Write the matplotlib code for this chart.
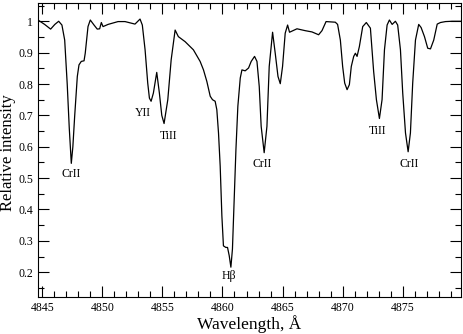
import matplotlib
matplotlib.use("Agg")
import matplotlib.pyplot as plt
from matplotlib.ticker import MultipleLocator

# traced spectrum (wavelength in A, relative intensity)
wavelength = [
    4844.65, 4845.20, 4845.70, 4846.05, 4846.37, 4846.64, 4846.87, 4847.08, 4847.25, 4847.42,
    4847.55, 4847.70, 4847.92, 4848.06, 4848.25, 4848.48, 4848.58, 4848.81, 4849.00, 4849.31,
    4849.58, 4849.78, 4849.92, 4850.06, 4850.48, 4851.31, 4851.89, 4852.72, 4853.14, 4853.33,
    4853.56, 4853.78, 4853.92, 4854.06, 4854.25, 4854.53, 4854.75, 4854.95, 4855.14, 4855.45,
    4855.73, 4856.06, 4856.33, 4856.89, 4857.58, 4858.14, 4858.42, 4858.70, 4858.98, 4859.17,
    4859.39, 4859.53, 4859.67, 4859.81, 4859.95, 4860.08, 4860.28, 4860.42, 4860.56, 4860.70,
    4860.83, 4860.98, 4861.12, 4861.28, 4861.48, 4861.62, 4861.89, 4862.17, 4862.39, 4862.67,
    4862.87, 4863.06, 4863.22, 4863.47, 4863.70, 4863.89, 4864.17, 4864.39, 4864.62, 4864.81,
    4865.00, 4865.22, 4865.42, 4865.58, 4866.20, 4866.89, 4867.45, 4868.00, 4868.28, 4868.62,
    4869.39, 4869.58, 4869.81, 4870.00, 4870.17, 4870.37, 4870.56, 4870.72, 4870.92, 4871.06,
    4871.20, 4871.39, 4871.67, 4871.97, 4872.31, 4872.58, 4872.81, 4873.06, 4873.28, 4873.48,
    4873.70, 4873.89, 4874.12, 4874.39, 4874.58, 4874.81, 4875.00, 4875.23, 4875.45, 4875.64,
    4875.83, 4876.06, 4876.33, 4876.53, 4876.81, 4877.08, 4877.31, 4877.58, 4877.87, 4878.14,
    4878.56, 4879.12, 4879.85,
]
intensity = [
    1.004, 0.990, 0.975, 0.990, 1.000, 0.988, 0.940, 0.800, 0.660, 0.547,
    0.600, 0.697, 0.824, 0.861, 0.872, 0.874, 0.898, 0.983, 1.004, 0.988,
    0.975, 0.976, 0.996, 0.983, 0.990, 0.999, 0.999, 0.991, 1.007, 0.988,
    0.909, 0.803, 0.755, 0.745, 0.771, 0.837, 0.771, 0.700, 0.674, 0.750,
    0.877, 0.972, 0.951, 0.935, 0.909, 0.872, 0.845, 0.808, 0.761, 0.750,
    0.745, 0.718, 0.644, 0.538, 0.380, 0.284, 0.279, 0.279, 0.253, 0.216,
    0.274, 0.433, 0.591, 0.729, 0.819, 0.845, 0.842, 0.851, 0.872, 0.888,
    0.872, 0.792, 0.665, 0.581, 0.665, 0.856, 0.965, 0.898, 0.824, 0.801,
    0.856, 0.962, 0.988, 0.965, 0.976, 0.970, 0.966, 0.957, 0.970, 0.999,
    0.997, 0.990, 0.940, 0.856, 0.803, 0.782, 0.798, 0.856, 0.888, 0.898,
    0.888, 0.919, 0.983, 0.996, 0.978, 0.840, 0.750, 0.690, 0.750, 0.909,
    0.988, 1.004, 0.990, 1.000, 0.988, 0.909, 0.771, 0.644, 0.584, 0.644,
    0.803, 0.940, 0.990, 0.980, 0.951, 0.914, 0.912, 0.940, 0.991, 0.996,
    0.999, 1.000, 1.000,
]

# line identifications
line_names = ["CrII", "YII", "TiII", "Hβ", "CrII", "TiII", "CrII"]
line_x = [4847.39, 4853.35, 4855.5, 4860.5, 4863.28, 4872.87, 4875.5]
line_y = [0.512, 0.708, 0.634, 0.187, 0.544, 0.65, 0.544]

plt.rcParams["font.family"] = ["Liberation Serif", "DejaVu Serif"]

fig = plt.figure(figsize=(4.63, 3.34), dpi=100)
ax = fig.add_axes([0.0821, 0.1108, 0.9136, 0.880])

ax.plot(wavelength, intensity, color="black", lw=0.9, solid_joinstyle="round")

for name, x, y in zip(line_names, line_x, line_y):
    ax.text(x, y, name, ha="center", va="center", fontsize=8.5)

ax.set_xlim(4844.65, 4879.85)
ax.set_ylim(0.121, 1.058)
ax.xaxis.set_major_locator(MultipleLocator(5))
ax.xaxis.set_minor_locator(MultipleLocator(1))
ax.yaxis.set_major_locator(MultipleLocator(0.1))
ax.yaxis.set_minor_locator(MultipleLocator(0.05))
ax.yaxis.set_major_formatter(plt.FuncFormatter(lambda v, p: "1" if abs(v - 1) < 1e-6 else f"{v:.1f}"))
ax.tick_params(which="both", direction="in", top=True, right=True, labelsize=8.5)
ax.tick_params(which="major", length=8, width=0.8)
ax.tick_params(which="minor", length=4, width=0.8)

ax.set_xlabel("Wavelength, Å", fontsize=12.5, labelpad=1)
ax.set_ylabel("Relative intensity", fontsize=12, va="center")
ax.yaxis.set_label_coords(-0.071, 0.49)

fig.savefig("out.png", dpi=100)
